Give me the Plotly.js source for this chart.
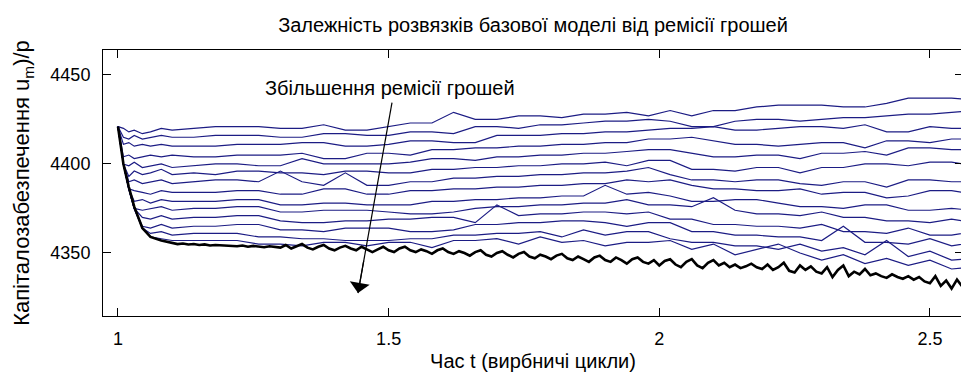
<!DOCTYPE html>
<html>
<head>
<meta charset="utf-8">
<script src="https://cdn.plot.ly/plotly-3.0.1.min.js"></script>
<style>
  html, body { margin: 0; padding: 0; overflow: hidden; background: #fff; }
  #chart { width: 963px; height: 380px; }
</style>
</head>
<body>
<div id="chart"></div>
<script>
// Time grid (production cycles) shared by the blue solution curves
const tGrid = [1, 1.01, 1.02, 1.03, 1.045, 1.06, 1.08, 1.10,
  1.14, 1.18, 1.22, 1.26, 1.30, 1.34, 1.38, 1.42, 1.46, 1.50,
  1.54, 1.58, 1.62, 1.66, 1.70, 1.74, 1.78, 1.82, 1.86, 1.90,
  1.94, 1.98, 2.02, 2.06, 2.10, 2.14, 2.18, 2.22, 2.26, 2.30,
  2.34, 2.38, 2.42, 2.46, 2.50, 2.54, 2.58];

// Capital provision for each money-emission level (top = largest)
const u01 = [4421, 4420, 4418, 4419, 4417, 4418, 4420, 4419,
  4420, 4421, 4421, 4421, 4420, 4420, 4422, 4419, 4419, 4421,
  4423, 4423, 4429, 4425, 4425, 4427, 4427, 4426, 4428, 4428,
  4429, 4427, 4430, 4427, 4430, 4430, 4432, 4433, 4433, 4433,
  4432, 4432, 4434, 4437, 4437, 4437, 4436];
const u02 = [4421, 4415, 4414, 4416, 4414, 4415, 4416, 4415,
  4415, 4416, 4416, 4416, 4415, 4415, 4417, 4417, 4416, 4416,
  4418, 4418, 4417, 4421, 4421, 4420, 4422, 4422, 4423, 4424,
  4424, 4425, 4424, 4421, 4421, 4424, 4425, 4425, 4424, 4425,
  4426, 4426, 4427, 4428, 4428, 4429, 4430];
const u03 = [4421, 4411, 4412, 4410, 4411, 4410, 4411, 4410,
  4410, 4410, 4411, 4411, 4411, 4412, 4412, 4410, 4410, 4411,
  4413, 4413, 4412, 4412, 4416, 4416, 4416, 4417, 4417, 4418,
  4418, 4419, 4420, 4420, 4421, 4419, 4419, 4420, 4421, 4421,
  4420, 4422, 4418, 4418, 4421, 4420, 4420];
const u04 = [4421, 4404, 4405, 4403, 4404, 4405, 4404, 4405,
  4404, 4404, 4405, 4405, 4405, 4406, 4403, 4403, 4406, 4406,
  4405, 4408, 4408, 4409, 4409, 4410, 4410, 4411, 4411, 4412,
  4412, 4414, 4414, 4415, 4413, 4411, 4411, 4410, 4411, 4412,
  4412, 4409, 4413, 4413, 4412, 4414, 4414];
const u05 = [4421, 4400, 4399, 4401, 4398, 4399, 4400, 4398,
  4399, 4400, 4400, 4399, 4399, 4403, 4400, 4400, 4400, 4400,
  4401, 4403, 4403, 4402, 4404, 4404, 4405, 4405, 4406, 4406,
  4407, 4408, 4408, 4406, 4404, 4404, 4405, 4405, 4403, 4406,
  4406, 4407, 4405, 4409, 4409, 4408, 4408];
const u06 = [4421, 4400, 4393, 4396, 4394, 4395, 4397, 4394,
  4395, 4394, 4396, 4396, 4395, 4395, 4394, 4396, 4396, 4395,
  4395, 4397, 4397, 4398, 4398, 4399, 4399, 4400, 4400, 4401,
  4399, 4402, 4402, 4397, 4397, 4396, 4398, 4398, 4395, 4398,
  4398, 4400, 4400, 4399, 4401, 4401, 4399];
const u07 = [4421, 4400, 4390, 4391, 4389, 4390, 4391, 4389,
  4390, 4391, 4391, 4390, 4396, 4390, 4388, 4395, 4388, 4388,
  4390, 4390, 4392, 4392, 4393, 4393, 4394, 4394, 4395, 4395,
  4396, 4398, 4394, 4391, 4391, 4390, 4391, 4391, 4389, 4388,
  4390, 4390, 4387, 4391, 4391, 4390, 4390];
const u08 = [4421, 4400, 4386, 4385, 4384, 4383, 4385, 4384,
  4384, 4384, 4385, 4385, 4383, 4383, 4386, 4386, 4383, 4383,
  4385, 4385, 4386, 4386, 4387, 4387, 4388, 4388, 4389, 4389,
  4391, 4390, 4391, 4388, 4386, 4386, 4385, 4385, 4386, 4383,
  4384, 4384, 4381, 4382, 4385, 4385, 4383];
const u09 = [4421, 4400, 4386, 4379, 4380, 4378, 4380, 4379,
  4379, 4379, 4380, 4380, 4377, 4377, 4378, 4378, 4377, 4377,
  4377, 4379, 4379, 4380, 4380, 4381, 4381, 4382, 4382, 4388,
  4383, 4384, 4382, 4379, 4379, 4380, 4380, 4378, 4376, 4376,
  4375, 4377, 4377, 4374, 4374, 4375, 4374];
const u10 = [4421, 4400, 4386, 4375, 4374, 4375, 4376, 4374,
  4375, 4375, 4376, 4376, 4373, 4373, 4374, 4374, 4374, 4373,
  4372, 4372, 4373, 4375, 4376, 4376, 4377, 4377, 4378, 4378,
  4380, 4377, 4377, 4376, 4381, 4374, 4372, 4372, 4371, 4373,
  4370, 4370, 4368, 4368, 4367, 4369, 4367];
const u11 = [4421, 4400, 4386, 4375, 4370, 4369, 4371, 4369,
  4370, 4370, 4371, 4371, 4368, 4367, 4367, 4368, 4368, 4369,
  4369, 4370, 4370, 4367, 4377, 4371, 4372, 4372, 4373, 4373,
  4372, 4373, 4369, 4369, 4366, 4366, 4365, 4365, 4364, 4366,
  4362, 4362, 4361, 4364, 4360, 4360, 4362];
const u12 = [4421, 4400, 4386, 4375, 4365, 4364, 4366, 4364,
  4365, 4365, 4366, 4366, 4363, 4363, 4362, 4364, 4364, 4364,
  4362, 4362, 4363, 4366, 4366, 4367, 4367, 4368, 4368, 4367,
  4365, 4367, 4367, 4362, 4362, 4360, 4360, 4359, 4359, 4357,
  4365, 4356, 4356, 4355, 4358, 4354, 4356];
const u13 = [4421, 4400, 4386, 4375, 4364, 4361, 4362, 4360,
  4361, 4361, 4361, 4359, 4359, 4358, 4358, 4357, 4357, 4357,
  4358, 4358, 4360, 4360, 4361, 4361, 4362, 4359, 4363, 4360,
  4362, 4362, 4358, 4356, 4356, 4354, 4354, 4352, 4355, 4351,
  4353, 4349, 4357, 4348, 4351, 4346, 4347];
const u14 = [4421, 4400, 4386, 4375, 4364, 4359, 4358, 4357,
  4357, 4357, 4357, 4355, 4355, 4354, 4356, 4356, 4354, 4356,
  4356, 4353, 4357, 4357, 4358, 4355, 4359, 4356, 4357, 4354,
  4356, 4356, 4357, 4352, 4355, 4349, 4352, 4355, 4350, 4346,
  4349, 4344, 4347, 4343, 4346, 4341, 4342];

// Base model (no extra emission): fast initial drop, then sampled every 0.01 from t = 1.10
const baseStartT = [1, 1.01, 1.02, 1.03, 1.045, 1.06, 1.08];
const baseStartU = [4421, 4400, 4387, 4376, 4364, 4359, 4357];
const baseU = [
  4355.5, 4355, 4355.3, 4354.8, 4355, 4354.5, 4354.8, 4354.2, 4354.5, 4354.3,
  4354.5, 4354, 4353.8, 4354.2, 4353.5, 4354, 4353.6, 4353.2, 4353.8, 4353.4,
  4353, 4354.5, 4352.5, 4353.8, 4355, 4353, 4352, 4353.5, 4354.5, 4352.5,
  4351.5, 4353, 4354, 4352.5, 4351.5, 4353.5, 4352, 4350.5, 4352, 4353.5,
  4351.5, 4350.5, 4352.5, 4353.5, 4351.5, 4350.5, 4352, 4351, 4349.5, 4351.5,
  4352.5, 4350.5, 4349.5, 4351, 4350, 4348.5, 4350.5, 4351.5, 4349, 4348,
  4350, 4351, 4349, 4347.5, 4349.5, 4350.5, 4348, 4347, 4349, 4348,
  4346.5, 4348.5, 4349.5, 4347, 4346, 4348, 4346.5, 4345, 4347.5, 4348.5,
  4346, 4345, 4347.5, 4346, 4344, 4346.5, 4347.5, 4345, 4344, 4346,
  4343, 4345.5, 4346.5, 4343.5, 4342, 4345, 4346.5, 4343, 4341.5, 4344.5,
  4346, 4343, 4344.5, 4342, 4343.5, 4341.5, 4342.5, 4344, 4342, 4341,
  4343.5, 4340.5, 4342, 4344.5, 4340, 4339, 4343, 4340.5, 4342.5, 4339.5,
  4338.5, 4342, 4336.5, 4340.5, 4343, 4337, 4339.5, 4338, 4341, 4337.5,
  4338.5, 4337, 4336, 4338, 4336.5, 4335.5, 4337, 4335, 4336.5, 4334,
  4333, 4337, 4331.5, 4334.5, 4330, 4335, 4331, 4333.5, 4329.5];

const xTickVals = [1, 1.5, 2, 2.5];
const xTickText = ['1', '1.5', '2', '2.5'];
const yTickVals = [4350, 4400, 4450];
const yTickText = ['4350', '4400', '4450'];

// Arrow from under the label down to the base-model curve
const arrowTail = { t: 1.5062, u: 4434.5 };
const arrowTip = { t: 1.4434, u: 4327.5 };

const emissionSeries = [u01, u02, u03, u04, u05, u06, u07, u08, u09, u10, u11, u12, u13, u14];

const baseT = baseStartT.slice();
baseU.forEach(function (_, i) { baseT.push(Math.round((1.10 + i * 0.01) * 1000) / 1000); });
const baseAll = baseStartU.concat(baseU);

const traces = emissionSeries.map(function (u) {
  return {
    x: tGrid, y: u, type: 'scatter', mode: 'lines',
    line: { color: '#1c1c84', width: 1.2 },
    hoverinfo: 'skip'
  };
});
traces.push({
  x: baseT, y: baseAll, type: 'scatter', mode: 'lines',
  line: { color: '#000000', width: 2.6 },
  hoverinfo: 'skip'
});

const FONT = 'Liberation Sans, Arial, sans-serif';

const layout = {
  width: 963, height: 380,
  margin: { l: 103, r: 0, t: 50, b: 64 },
  paper_bgcolor: '#ffffff', plot_bgcolor: '#ffffff',
  showlegend: false,
  font: { family: FONT, color: '#000', size: 16 },
  title: {
    text: 'Залежність розвязків базової моделі від ремісії грошей',
    font: { family: FONT, size: 20, color: '#000' },
    x: 0.5, xref: 'paper', xanchor: 'center',
    y: 0.935, yref: 'container', yanchor: 'middle'
  },
  xaxis: {
    range: [0.9723, 2.5611],
    tickvals: xTickVals, ticktext: xTickText,
    ticks: 'inside', ticklen: 8, tickwidth: 1, tickcolor: '#000',
    showline: true, linecolor: '#000', linewidth: 1, mirror: 'ticks',
    showgrid: false, zeroline: false, ticklabelstandoff: 6,
    tickfont: { family: FONT, size: 18, color: '#000' },
    title: { text: 'Час t (вирбничі цикли)', font: { family: FONT, size: 20, color: '#000' }, standoff: 6 }
  },
  yaxis: {
    range: [4314.6, 4464.0],
    tickvals: yTickVals, ticktext: yTickText,
    ticks: 'inside', ticklen: 8, tickwidth: 1, tickcolor: '#000',
    showline: true, linecolor: '#000', linewidth: 1, mirror: 'ticks',
    showgrid: false, zeroline: false, ticklabelstandoff: 8,
    tickfont: { family: FONT, size: 18, color: '#000' },
    title: { text: 'Капіталозабезпечення u<sub>m</sub>)/p', font: { family: FONT, size: 22, color: '#000' }, standoff: 14 }
  },
  shapes: [{
    type: 'line', xref: 'x', yref: 'y',
    x0: arrowTail.t, y0: arrowTail.u, x1: arrowTip.t, y1: arrowTip.u,
    line: { color: '#000', width: 1.2 }
  }],
  annotations: [
    {
      // label of the arrow
      x: (390 - 103) / 860, y: (316 - 88) / 266, xref: 'paper', yref: 'paper',
      xanchor: 'center', yanchor: 'middle', showarrow: false,
      text: 'Збільшення ремісії грошей',
      font: { family: FONT, size: 20, color: '#000' }
    },
    {
      // arrowhead at the tip of the line
      x: arrowTip.t, y: arrowTip.u, xref: 'x', yref: 'y',
      ax: 6, ay: -34, axref: 'pixel', ayref: 'pixel',
      text: '', showarrow: true,
      arrowhead: 1, arrowsize: 2.8, arrowwidth: 1.2, arrowcolor: '#000'
    }
  ]
};

Plotly.newPlot('chart', traces, layout, { staticPlot: true, displayModeBar: false });
</script>
</body>
</html>
